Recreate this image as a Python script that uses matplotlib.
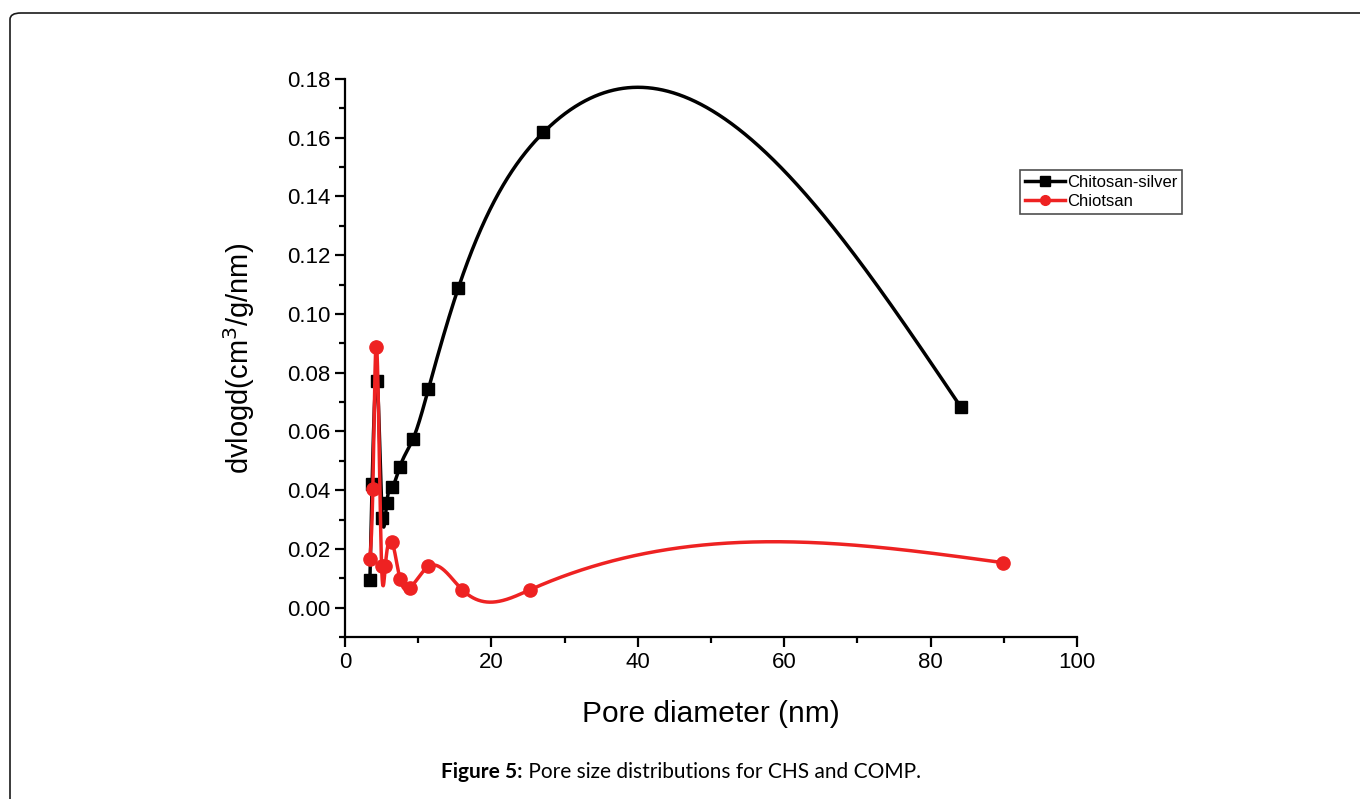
import numpy as np
import matplotlib
matplotlib.use("Agg")
import matplotlib.pyplot as plt
from matplotlib.patches import FancyBboxPatch
from matplotlib.ticker import MultipleLocator

plt.rcParams['font.family'] = ['Liberation Sans', 'DejaVu Sans']

# data
x_cs = [3.4, 3.7, 4.4, 5.1, 5.7, 6.4, 7.5, 9.3, 11.4, 15.5, 27.1, 84.1]
y_cs = [0.0095, 0.042, 0.077, 0.0305, 0.0357, 0.041, 0.048, 0.0575, 0.0745, 0.109, 0.1618, 0.0684]

x_ch = [3.4, 3.8, 4.2, 5.0, 5.5, 6.4, 7.5, 8.9, 11.4, 16.0, 25.3, 89.9]
y_ch = [0.0167, 0.0405, 0.0888, 0.014, 0.014, 0.0225, 0.0099, 0.0068, 0.014, 0.0061, 0.0061, 0.0153]


# natural cubic spline, like Origin's spline connection
def spline(x, y, n=2000):
    x = np.asarray(x, float)
    y = np.asarray(y, float)
    k = len(x)
    h = np.diff(x)
    A = np.zeros((k, k))
    b = np.zeros(k)
    A[0, 0] = 1
    A[-1, -1] = 1
    for i in range(1, k - 1):
        A[i, i - 1] = h[i - 1]
        A[i, i] = 2 * (h[i - 1] + h[i])
        A[i, i + 1] = h[i]
        b[i] = 6 * ((y[i + 1] - y[i]) / h[i] - (y[i] - y[i - 1]) / h[i - 1])
    M = np.linalg.solve(A, b)
    xs = np.linspace(x[0], x[-1], n)
    idx = np.clip(np.searchsorted(x, xs) - 1, 0, k - 2)
    x0, x1 = x[idx], x[idx + 1]
    hh = x1 - x0
    t0 = x1 - xs
    t1 = xs - x0
    ys = (M[idx] * t0**3 + M[idx + 1] * t1**3) / (6 * hh) \
        + (y[idx] / hh - M[idx] * hh / 6) * t0 \
        + (y[idx + 1] / hh - M[idx + 1] * hh / 6) * t1
    return xs, ys


fig = plt.figure(figsize=(13.6, 7.99), dpi=100)
ax = fig.add_axes([0.2537, 0.2028, 0.5382, 0.6983])

red = '#ee2222'
xs, ys = spline(x_cs, y_cs)
ax.plot(xs, ys, color='black', lw=2.5)
ax.plot(x_cs, y_cs, 's', color='black', ms=9)
xs, ys = spline(x_ch, y_ch)
ax.plot(xs, ys, color=red, lw=2.5)
ax.plot(x_ch, y_ch, 'o', color=red, ms=9.5)

# legend handles
ax.plot([], [], '-s', color='black', lw=2.5, ms=7, label='Chitosan-silver')
ax.plot([], [], '-o', color=red, lw=2.5, ms=7, label='Chiotsan')
leg = ax.legend(loc='upper left', bbox_to_anchor=(0.75, 0.787), bbox_transform=fig.transFigure,
                fontsize=12, frameon=True, fancybox=False, handlelength=2.4,
                handletextpad=0.1, borderpad=0.3, labelspacing=0.2, borderaxespad=0)
leg.get_frame().set_edgecolor('#222222')
leg.get_frame().set_linewidth(1.2)

ax.set_xlim(0, 100)
ax.set_ylim(-0.01, 0.18)
ax.xaxis.set_major_locator(MultipleLocator(20))
ax.xaxis.set_minor_locator(MultipleLocator(10))
ax.yaxis.set_minor_locator(MultipleLocator(0.01))
ax.set_yticks(np.arange(0, 0.181, 0.02))
ax.set_yticklabels(['%.2f' % v for v in np.arange(0, 0.181, 0.02)])
ax.spines['top'].set_visible(False)
ax.spines['right'].set_visible(False)
for s in ['left', 'bottom']:
    ax.spines[s].set_linewidth(1.6)
ax.tick_params(which='major', length=7, width=1.6, labelsize=16, direction='out')
ax.tick_params(which='minor', length=4, width=1.6, direction='out')

ax.set_xlabel('Pore diameter (nm)', fontsize=21.5, labelpad=20)
ax.set_ylabel('dvlogd(cm$^3$/g/nm)', fontsize=21, labelpad=22)

# page frame and caption
frame = FancyBboxPatch((10 / 1360, -0.05), 1.1, 1 - 13 / 799 + 0.05,
                       boxstyle='round,pad=0,rounding_size=0.008',
                       transform=fig.transFigure, fill=False, edgecolor='#1a1a1a', lw=1.2)
fig.patches.append(frame)

cap_font = ['Lato', 'DejaVu Sans']
t1 = fig.text(0, 0.034, 'Figure 5:', fontsize=15, fontweight='bold',
              family=cap_font, va='center', ha='left')
t2 = fig.text(0, 0.034, ' Pore size distributions for CHS and COMP.', fontsize=15,
              family=cap_font, va='center', ha='left')
r = fig.canvas.get_renderer()
w1 = t1.get_window_extent(r).width
w2 = t2.get_window_extent(r).width
x0 = 681 - (w1 + w2) / 2
t1.set_x(x0 / 1360)
t2.set_x((x0 + w1) / 1360)

fig.savefig('out.png', dpi=100)
